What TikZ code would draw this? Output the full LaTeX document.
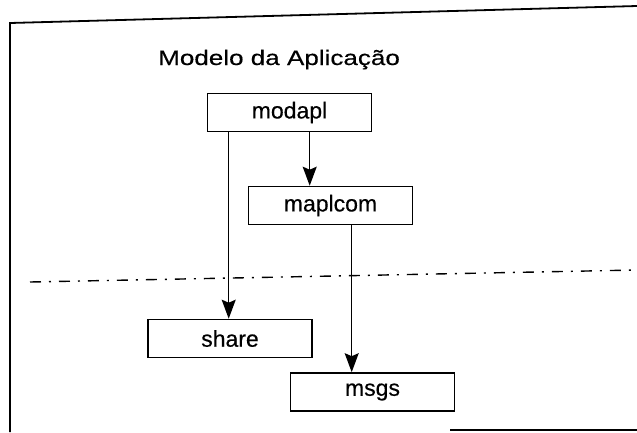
\documentclass[tikz,border=0pt]{standalone}
\usepackage{fontspec}
\setmainfont[FakeBold=0.4]{Liberation Sans}
\newfontfamily\titlefont[FakeStretch=1.24,FakeBold=0.4]{Liberation Sans}
\usetikzlibrary{arrows.meta,calc}
\begin{document}
\begin{tikzpicture}[x=1pt,y=-1pt,
  box/.style={draw,line width=1.6pt,minimum width=164pt,minimum height=38pt,inner sep=0pt,font=\fontsize{23}{27}\selectfont},
  arr/.style={line width=1.5pt,-{Stealth[length=19pt,width=14pt,inset=3pt]}},
  frameline/.style={line width=1.8pt},
  sepline/.style={line width=1.4pt,dash pattern=on 11pt off 8pt on 2pt off 8pt}]
\useasboundingbox (0,0) rectangle (637,432);
% frame
\coordinate (fBL) at (10,432);
\coordinate (fTL) at (10,23);
\coordinate (fTR) at (637,6);
\draw[frameline] (fBL) -- (fTL) -- (fTR);
\coordinate (bL) at (450,430);
\coordinate (bR) at (637,430);
\draw[frameline] (bL) -- (bR);
% separator
\coordinate (sepL) at (30,282);
\coordinate (sepR) at (637,270);
\draw[sepline] (sepL) -- (sepR);
% title
\node[anchor=base west,inner sep=0pt,font=\titlefont\fontsize{21}{25}\selectfont] (title) at (158,65) {Modelo da Aplicação};
% boxes
\node[box] (modapl) at (289.5,112.5) {modapl};
\node[box] (maplcom) at (330.5,205.5) {maplcom};
\node[box] (share) at (230,338.5) {share};
\node[box] (msgs) at (372.5,392) {msgs};
% arrows
\coordinate (a1) at ([xshift=22pt]modapl.south west);
\coordinate (a2) at ([xshift=103pt]modapl.south west);
\coordinate (a3) at ([xshift=104pt]maplcom.south west);
\draw[arr] (a1) -- (a1 |- share.north);
\draw[arr] (a2) -- (a2 |- maplcom.north);
\draw[arr] (a3) -- (a3 |- msgs.north);
\end{tikzpicture}
\end{document}
